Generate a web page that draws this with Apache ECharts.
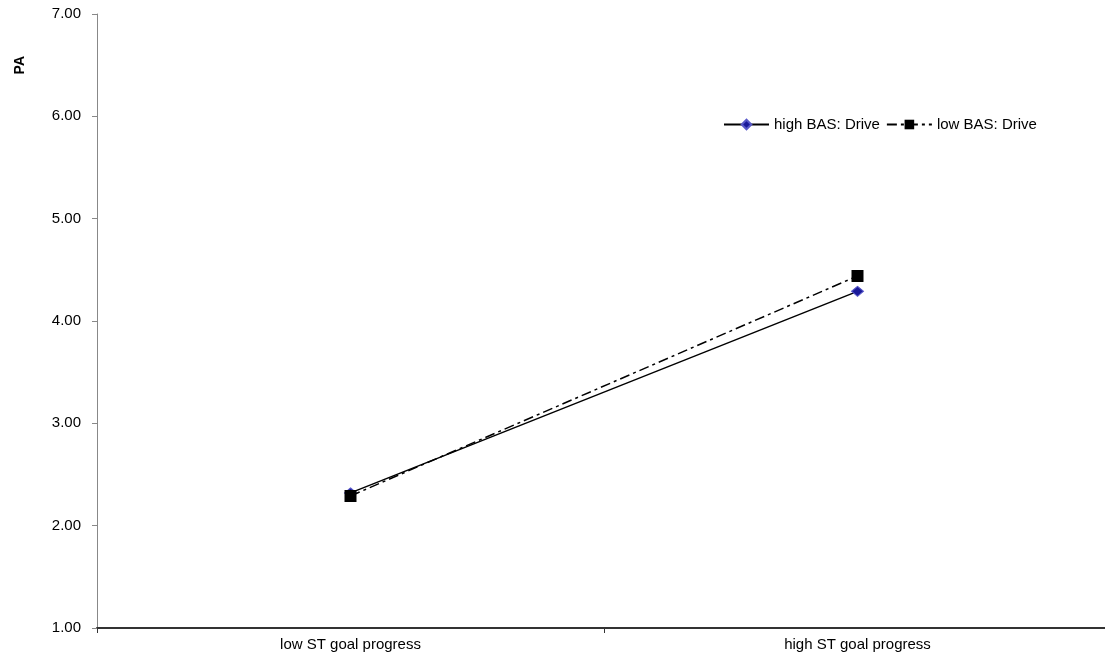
<!DOCTYPE html>
<html>
<head>
<meta charset="utf-8">
<script src="https://cdn.jsdelivr.net/npm/echarts@6/dist/echarts.min.js"></script>
<style>html,body{margin:0;padding:0;background:#fff;overflow:hidden}#c{width:1111px;height:656px}</style>
</head>
<body>
<div id="c"></div>
<script>
var categories = ['low ST goal progress', 'high ST goal progress'];
var highBAS = [2.32, 4.29];
var lowBAS = [2.29, 4.44];
var yTicks = [1, 2, 3, 4, 5, 6, 7];

var chart = echarts.init(document.getElementById('c'));
var font = 'Liberation Sans, Arial, sans-serif';
chart.setOption({
  animation: false,
  textStyle: { fontFamily: font },
  grid: { left: 97, top: 14, bottom: 28, right: 0, containLabel: false },
  legend: {
    left: 718, top: 112,
    itemWidth: 45, itemHeight: 12, itemGap: 6,
    textStyle: { fontFamily: font, fontSize: 15, color: '#000' },
    data: ['high BAS: Drive', 'low BAS: Drive']
  },
  graphic: [{
    type: 'text', left: 13, top: 56, rotation: Math.PI / 2,
    style: { text: 'PA', font: 'bold 14px ' + font, fill: '#000' }
  }],
  xAxis: {
    type: 'category', data: categories, boundaryGap: true,
    axisLine: { lineStyle: { color: '#333', width: 2 } },
    axisTick: { show: true, length: 5, lineStyle: { color: '#333' } },
    axisLabel: { color: '#000', fontSize: 15, margin: 9, fontFamily: font },
    splitLine: { show: false }
  },
  yAxis: {
    type: 'value', min: yTicks[0], max: yTicks[yTicks.length - 1], interval: 1,
    axisLine: { show: true, lineStyle: { color: '#888', width: 1 } },
    axisTick: { show: true, length: 5, lineStyle: { color: '#888' } },
    axisLabel: { color: '#000', fontSize: 15, margin: 16, fontFamily: font,
      formatter: function (v) { return v.toFixed(2); } },
    splitLine: { show: false }
  },
  series: [{
    name: 'high BAS: Drive', type: 'line', data: highBAS,
    symbol: 'diamond', symbolSize: [12, 10],
    itemStyle: { color: '#1a1a9a', borderColor: '#5858c8', borderWidth: 1 },
    lineStyle: { color: '#000', width: 1.5, type: 'solid' },
    z: 2
  }, {
    name: 'low BAS: Drive', type: 'line', data: lowBAS,
    symbol: 'rect', symbolSize: 12,
    itemStyle: { color: '#000' },
    lineStyle: { color: '#000', width: 1.5, type: [10, 4, 3, 4] },
    z: 3
  }]
});
</script>
</body>
</html>
